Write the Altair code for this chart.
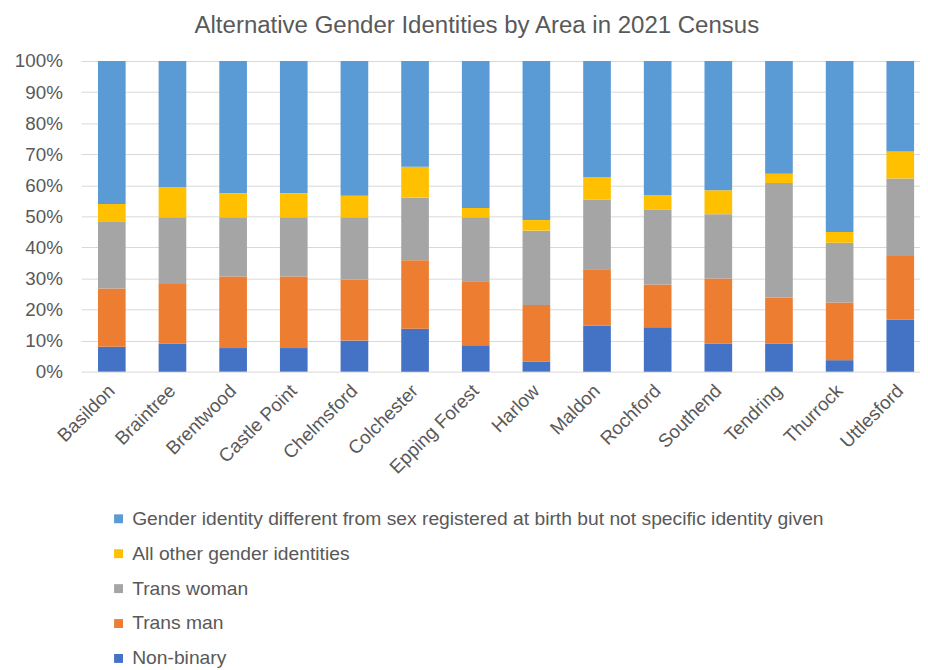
import altair as alt
import pandas as pd

areas = ["Basildon", "Braintree", "Brentwood", "Castle Point", "Chelmsford", "Colchester",
         "Epping Forest", "Harlow", "Maldon", "Rochford", "Southend", "Tendring",
         "Thurrock", "Uttlesford"]

# Shares (%) of each category per area
non_binary = [8.0, 9.0, 7.6, 7.6, 10.0, 13.8, 8.5, 3.2, 14.8, 14.3, 9.0, 9.0, 3.7, 16.7]
trans_man = [18.8, 19.2, 23.0, 23.0, 19.7, 22.1, 20.6, 18.3, 18.2, 13.8, 21.0, 14.9, 18.6, 20.5]
trans_woman = [21.4, 21.5, 19.1, 19.1, 20.0, 20.1, 20.6, 23.9, 22.4, 24.0, 20.7, 36.8, 19.2, 25.0]
all_other = [5.8, 9.7, 7.7, 7.7, 6.9, 10.0, 3.0, 3.4, 7.3, 4.8, 7.7, 3.0, 3.5, 8.7]
not_specific = [46.0, 40.6, 42.6, 42.6, 43.4, 34.0, 47.3, 51.2, 37.3, 43.1, 41.6, 36.3, 55.0, 29.1]

series_names = [
    "Non-binary",
    "Trans man",
    "Trans woman",
    "All other gender identities",
    "Gender identity different from sex registered at birth but not specific identity given",
]
series_values = [non_binary, trans_man, trans_woman, all_other, not_specific]
series_colors = ["#4472C4", "#ED7D31", "#A5A5A5", "#FFC000", "#5B9BD5"]

rows = []
for i, area in enumerate(areas):
    for rank, (name, vals) in enumerate(zip(series_names, series_values)):
        rows.append({"Area": area, "Identity": name, "Share": vals[i], "rank": rank})
df = pd.DataFrame(rows)

legend_order = list(reversed(series_names))
legend_colors = list(reversed(series_colors))

FONT = "Liberation Sans"
TXT = "#595959"

chart = alt.Chart(df).mark_bar().encode(
    x=alt.X(
        "Area:N", sort=areas, title=None,
        scale=alt.Scale(paddingInner=0.544, paddingOuter=0.187, align=0.74),
        axis=alt.Axis(labelAngle=-45, labelAlign="right", labelBaseline="middle",
                      labelPadding=16, labelFontSize=19, grid=False, domain=False, ticks=False),
    ),
    y=alt.Y(
        "Share:Q", stack="normalize", title=None,
        axis=alt.Axis(format="%", values=[i / 10 for i in range(11)], labelFontSize=19,
                      labelPadding=19, domain=False, ticks=False, grid=True),
    ),
    color=alt.Color(
        "Identity:N",
        scale=alt.Scale(domain=legend_order, range=legend_colors),
        legend=alt.Legend(
            title=None, orient="none", legendX=28, legendY=453, direction="vertical",
            symbolType="square", symbolSize=81, symbolStrokeWidth=0,
            labelFontSize=19.5, labelColor=TXT, labelFont=FONT, labelOffset=4,
            rowPadding=14.3, labelLimit=0,
        ),
    ),
    order=alt.Order("rank:Q", sort="ascending"),
).properties(
    width=848,
    height=314,
    title=alt.TitleParams(
        "Alternative Gender Identities by Area in 2021 Census",
        fontSize=24.3, font=FONT, fontWeight="normal", color=TXT, offset=14, dx=-24,
    ),
    padding={"left": 6, "top": 2, "right": 0, "bottom": 0},
).configure_view(stroke=None).configure_axis(
    labelFont=FONT, labelColor=TXT, gridColor="#D9D9D9", gridWidth=1,
)

chart.save("out.html", embed_options={"renderer": "svg", "actions": False})
